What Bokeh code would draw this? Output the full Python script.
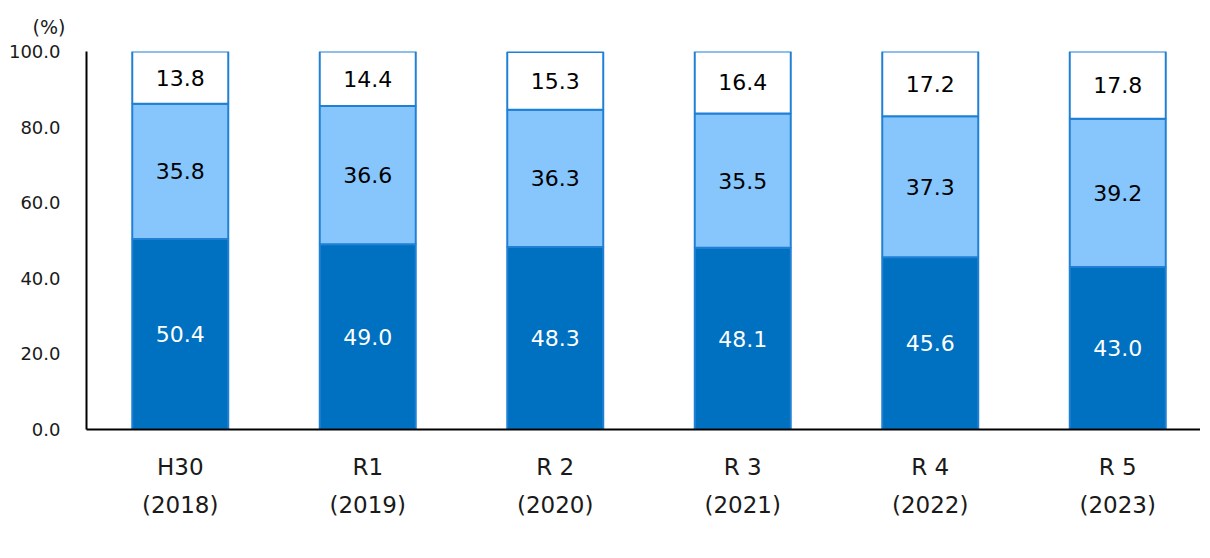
from bokeh.plotting import figure
from bokeh.models import (ColumnDataSource, FixedTicker, Range1d, Legend, LegendItem,
                          PrintfTickFormatter, LinearAxis)
from bokeh.embed import file_html
from bokeh.resources import INLINE
from bokeh.core.properties import value

# ---- data ----
era_labels = ["H30", "R1", "R 2", "R 3", "R 4", "R 5"]
year_labels = ["(2018)", "(2019)", "(2020)", "(2021)", "(2022)", "(2023)"]
age65_74 = [50.4, 49.0, 48.3, 48.1, 45.6, 43.0]
age75_84 = [35.8, 36.6, 36.3, 35.5, 37.3, 39.2]
age85_plus = [13.8, 14.4, 15.3, 16.4, 17.2, 17.8]
series_names = ["65～74歳", "75～84歳", "85歳以上"]
y_ticks = [0, 20, 40, 60, 80, 100]

FONT = "DejaVu Sans"
CJK_FONT = "DejaVu Sans, Noto Sans CJK JP"
DARK = "#0070C0"
LIGHT = "#86C6FC"
WHITE = "#FFFFFF"
EDGE = "#1F80D5"
TXT = "#1a1a1a"

xs = list(range(1, len(era_labels) + 1))
source = ColumnDataSource(dict(x=xs, a=age65_74, b=age75_84, c=age85_plus))

frame_w = 1114
cat_w = 187.5
p = figure(frame_width=frame_w, frame_height=378, output_backend="svg", toolbar_location=None,
           x_range=Range1d(0.5, 0.5 + frame_w / cat_w), y_range=Range1d(0, 100),
           min_border_left=86, min_border_right=0, min_border_top=51, min_border_bottom=0)
p.outline_line_color = None
p.xgrid.visible = False
p.ygrid.visible = False
p.background_fill_color = "white"

rs = p.vbar_stack(["a", "b", "c"], x="x", width=0.512, source=source,
                  fill_color=[DARK, LIGHT, WHITE], line_color=EDGE, line_width=2)

# segment labels
lab_x, lab_y, lab_t, lab_c = [], [], [], []
for i, x in enumerate(xs):
    base = 0.0
    for vals, col in ((age65_74, "white"), (age75_84, "black"), (age85_plus, "black")):
        v = vals[i]
        lab_x.append(x)
        lab_y.append(base + v / 2)
        lab_t.append(f"{v:.1f}")
        lab_c.append(col)
        base += v
lsrc = ColumnDataSource(dict(x=lab_x, y=lab_y, t=lab_t, c=lab_c))
p.text(x="x", y="y", text="t", source=lsrc, text_color="c", text_align="center",
       text_baseline="middle", text_font=value(FONT), text_font_size="22px")

# y axis
p.yaxis.ticker = FixedTicker(ticks=y_ticks)
p.yaxis.formatter = PrintfTickFormatter(format="%.1f")
p.yaxis.major_tick_line_color = None
p.yaxis.minor_tick_line_color = None
p.yaxis.major_tick_out = 0
p.yaxis.axis_line_color = "black"
p.yaxis.axis_line_width = 2
p.yaxis.major_label_text_font = FONT
p.yaxis.major_label_text_font_size = "18px"
p.yaxis.major_label_text_color = TXT
p.yaxis.major_label_standoff = 26

# x axis: era labels
p.xaxis.ticker = FixedTicker(ticks=xs)
p.xaxis.major_label_overrides = {x: e for x, e in zip(xs, era_labels)}
p.xaxis.major_tick_line_color = None
p.xaxis.minor_tick_line_color = None
p.xaxis.major_tick_out = 0
p.xaxis.minor_tick_out = 0
p.xaxis.axis_label_standoff = 0
p.xaxis.axis_line_color = "black"
p.xaxis.axis_line_width = 2
p.xaxis.major_label_text_font = FONT
p.xaxis.major_label_text_font_size = "23px"
p.xaxis.major_label_text_color = TXT
p.xaxis.major_label_standoff = 24

# second x axis: year labels
ax2 = LinearAxis(ticker=FixedTicker(ticks=xs),
                 major_label_overrides={x: y for x, y in zip(xs, year_labels)},
                 axis_line_color=None, major_tick_line_color=None, minor_tick_line_color=None,
                 major_tick_out=0, minor_tick_out=0, axis_label_standoff=0,
                 major_label_text_font=FONT, major_label_text_font_size="23px",
                 major_label_text_color=TXT, major_label_standoff=9)
p.add_layout(ax2, "below")

# title "(%)"
p.title.text = "(%)"
p.title.text_font = FONT
p.title.text_font_size = "19px"
p.title.text_font_style = "normal"
p.title.text_color = TXT
p.title.align = "left"
p.title.offset = -54
p.title.standoff = 27

legend = Legend(items=[LegendItem(label=n, renderers=[r]) for n, r in zip(series_names, rs)],
                orientation="horizontal", location=(240, 0), glyph_width=47, glyph_height=14,
                label_standoff=5, spacing=26, padding=0, margin=0, border_line_color=None,
                background_fill_alpha=0, label_height=14, label_text_line_height=1.0,
                label_text_font=CJK_FONT, label_text_font_size="22px", label_text_color=TXT)
p.add_layout(legend, "below")

open("out.html", "w").write(file_html(p, INLINE))
